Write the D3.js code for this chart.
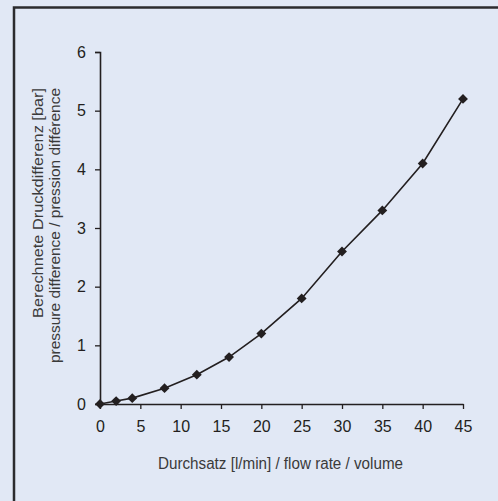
<!DOCTYPE html>
<html>
<head>
<meta charset="utf-8">
<script src="https://cdn.jsdelivr.net/npm/d3@7"></script>
<style>
  body { margin: 0; background: #e1e8f5; }
  .tick text { font-family: "Liberation Sans", Arial, sans-serif; font-size: 16px; fill: #231f20; }
  .axis-title { font-family: "Liberation Sans", Arial, sans-serif; fill: #3a3a3a; }
</style>
</head>
<body>
<div id="chart"></div>
<script>
// Data
const flow = [0, 2, 4, 8, 12, 16, 20, 25, 30, 35, 40, 45]
const pressure = [0, 0.05, 0.1, 0.27, 0.5, 0.8, 1.2, 1.8, 2.6, 3.3, 4.1, 5.2]
const xTicks = [0, 5, 10, 15, 20, 25, 30, 35, 40, 45]
const yTicks = [0, 1, 2, 3, 4, 5, 6]
const xTitle = 'Durchsatz [l/min] / flow rate / volume'
const yTitle = ['Berechnete Druckdifferenz [bar]', 'pressure difference / pression différence']

const data = flow.map((f, i) => ({ flow: f, pressure: pressure[i] }))

// Dimensions
const width = 498
const height = 501
const margin = { top: 52, right: 35, bottom: 97, left: 100 }
const innerWidth = width - margin.left - margin.right
const innerHeight = height - margin.top - margin.bottom
const ink = '#231f20'

const svg = d3.select('#chart')
  .append('svg')
  .attr('width', width)
  .attr('height', height)

// Background and the frame (only top and left edges are visible)
svg.append('rect').attr('width', width).attr('height', height).attr('fill', '#e1e8f5')
svg.append('path')
  .attr('d', `M14,${height} V7.5 H${width}`)
  .attr('fill', 'none')
  .attr('stroke', '#2b2b2e')
  .attr('stroke-width', 2.5)

const g = svg.append('g')
  .attr('transform', `translate(${margin.left}, ${margin.top})`)

// Scales
const xScale = d3.scaleLinear().domain([0, 45]).range([0, innerWidth])
const yScale = d3.scaleLinear().domain([0, 6]).range([innerHeight, 0])

// Bottom axis
const xAxis = g.append('g')
  .attr('transform', `translate(0, ${innerHeight})`)
  .call(d3.axisBottom(xScale).tickValues(xTicks).tickSize(5).tickPadding(12).tickSizeOuter(0))
xAxis.select('.domain').attr('stroke', ink).attr('stroke-width', 1.6)
xAxis.selectAll('.tick line').attr('stroke', ink).attr('stroke-width', 1.3)

// Left axis
const yAxis = g.append('g')
  .call(d3.axisLeft(yScale).tickValues(yTicks).tickFormat(d3.format('d'))
    .tickSize(5).tickPadding(9).tickSizeOuter(5))
yAxis.select('.domain').attr('stroke', ink).attr('stroke-width', 1.6)
yAxis.selectAll('.tick line').attr('stroke', ink).attr('stroke-width', 1.3)

// Axis titles (condensed face, so squeeze to the measured widths)
svg.append('text')
  .attr('class', 'axis-title')
  .attr('x', 158)
  .attr('y', 469)
  .attr('textLength', 245)
  .attr('lengthAdjust', 'spacingAndGlyphs')
  .style('font-size', '16px')
  .text(xTitle)

const yt = svg.append('text')
  .attr('class', 'axis-title')
  .attr('transform', 'translate(0, 88) rotate(-90)')
  .attr('text-anchor', 'end')
  .style('font-size', '14px')
yt.selectAll('tspan')
  .data(yTitle)
  .join('tspan')
  .attr('x', 0)
  .attr('y', (d, i) => i === 0 ? 43 : 60)
  .attr('textLength', (d, i) => i === 0 ? 230 : 275)
  .attr('lengthAdjust', 'spacingAndGlyphs')
  .text(d => d)

// Line
const line = d3.line()
  .x(d => xScale(d.flow))
  .y(d => yScale(d.pressure))

g.append('path')
  .datum(data)
  .attr('fill', 'none')
  .attr('stroke', ink)
  .attr('stroke-width', 1.6)
  .attr('d', line)

// Diamond markers
g.selectAll('.marker')
  .data(data)
  .join('path')
  .attr('class', 'marker')
  .attr('transform', d => `translate(${xScale(d.flow)}, ${yScale(d.pressure)})`)
  .attr('d', d3.symbol().type(d3.symbolDiamond2).size(62))
  .attr('fill', ink)
</script>
</body>
</html>
